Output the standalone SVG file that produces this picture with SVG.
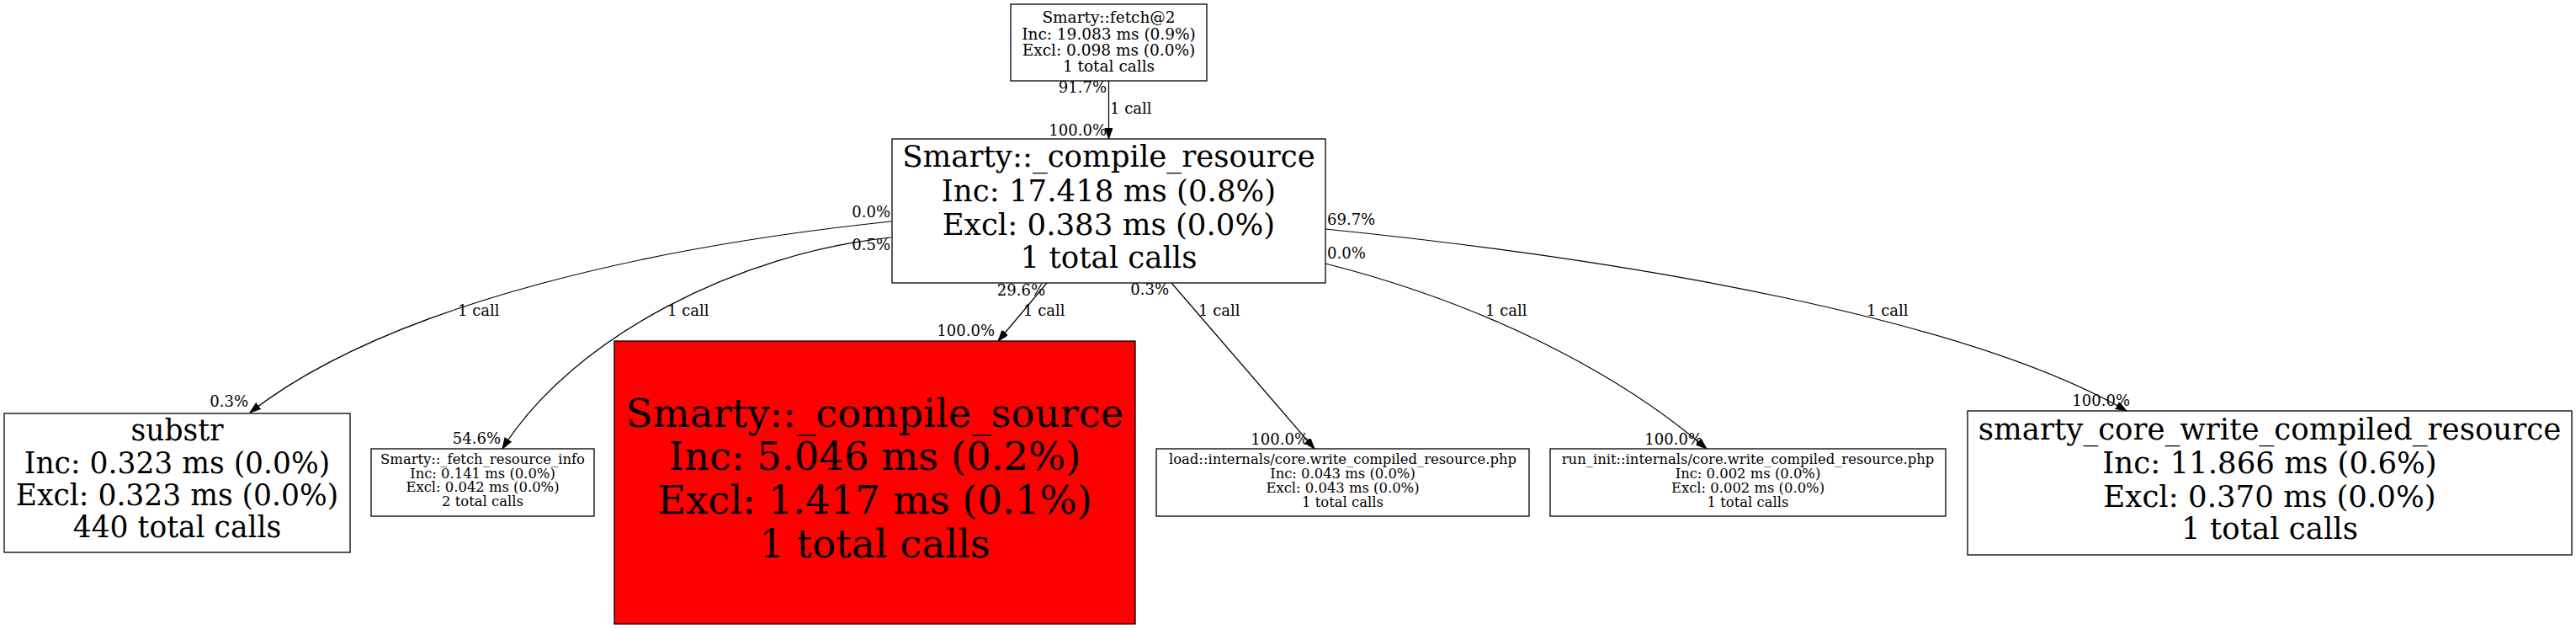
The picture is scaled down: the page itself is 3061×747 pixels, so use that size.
<svg xmlns="http://www.w3.org/2000/svg" width="3061" height="747" viewBox="0 0 3061 747">
<defs>
<style>
.bg{fill:#ffffff}
.box{fill:#ffffff;stroke:#000000;stroke-width:1.3}
.hot{fill:#ff0000;stroke:#000000;stroke-width:1.3}
.t{font-family:"DejaVu Serif",serif;fill:#000000;text-anchor:middle}
.lbl{font-family:"DejaVu Serif",serif;font-size:18px;fill:#000000}
.e{fill:none;stroke:#000000;stroke-width:1.2}
.end{text-anchor:end}
</style>
<marker id="arr" markerUnits="userSpaceOnUse" markerWidth="14" markerHeight="10" refX="13" refY="4.5" orient="auto">
<path d="M0,0 L13,4.5 L0,9 z" fill="#000000" stroke="#000000" stroke-width="1"/>
</marker>
</defs>
<rect class="bg" x="0" y="0" width="3061" height="747"/>

<g id="connectors">
<path class="e" d="M1317.5,96 L1317.5,165" marker-end="url(#arr)"/>
<path class="e" d="M1059,263 C800,290 470,355 297,490" marker-end="url(#arr)"/>
<path class="e" d="M1059,282 C880,300 680,400 597,533" marker-end="url(#arr)"/>
<path class="e" d="M1244,336 L1186,405" marker-end="url(#arr)"/>
<path class="e" d="M1392,336 L1562,533" marker-end="url(#arr)"/>
<path class="e" d="M1575,313 C1760,360 1920,440 2028,533" marker-end="url(#arr)"/>
<path class="e" d="M1575,272 C1950,310 2340,380 2527,488" marker-end="url(#arr)"/>
<text class="lbl end" x="1315" y="110">91.7%</text>
<text class="lbl" x="1319" y="135">1 call</text>
<text class="lbl end" x="1315" y="161">100.0%</text>
<text class="lbl end" x="1058" y="258">0.0%</text>
<text class="lbl" x="544" y="375">1 call</text>
<text class="lbl end" x="295" y="483">0.3%</text>
<text class="lbl end" x="1058" y="297">0.5%</text>
<text class="lbl" x="793" y="375">1 call</text>
<text class="lbl end" x="595" y="527">54.6%</text>
<text class="lbl end" x="1242" y="351">29.6%</text>
<text class="lbl" x="1216" y="375">1 call</text>
<text class="lbl end" x="1182" y="399">100.0%</text>
<text class="lbl end" x="1389" y="350">0.3%</text>
<text class="lbl" x="1424" y="375">1 call</text>
<text class="lbl end" x="1555" y="528">100.0%</text>
<text class="lbl" x="1577" y="307">0.0%</text>
<text class="lbl" x="1765" y="375">1 call</text>
<text class="lbl end" x="2023" y="528">100.0%</text>
<text class="lbl" x="1577" y="267">69.7%</text>
<text class="lbl" x="2218" y="375">1 call</text>
<text class="lbl end" x="2531" y="482">100.0%</text>
</g>

<g id="node-fetch">
<rect class="box" x="1201" y="5" width="233" height="91"/>
<text class="t" font-size="18.5" x="1317.5" y="27">Smarty::fetch@2</text>
<text class="t" font-size="18.5" x="1317.5" y="46.5">Inc: 19.083 ms (0.9%)</text>
<text class="t" font-size="18.5" x="1317.5" y="66">Excl: 0.098 ms (0.0%)</text>
<text class="t" font-size="18.5" x="1317.5" y="85">1 total calls</text>
</g>

<g id="node-compile-resource">
<rect class="box" x="1060" y="165" width="515" height="171"/>
<text class="t" font-size="35.6" x="1317.5" y="198">Smarty::_compile_resource</text>
<text class="t" font-size="35.6" x="1317.5" y="239">Inc: 17.418 ms (0.8%)</text>
<text class="t" font-size="35.6" x="1317.5" y="279">Excl: 0.383 ms (0.0%)</text>
<text class="t" font-size="35.6" x="1317.5" y="318">1 total calls</text>
</g>

<g id="node-substr">
<rect class="box" x="5" y="491" width="411" height="165"/>
<text class="t" font-size="34.5" x="210.5" y="523">substr</text>
<text class="t" font-size="34.5" x="210.5" y="562">Inc: 0.323 ms (0.0%)</text>
<text class="t" font-size="34.5" x="210.5" y="600">Excl: 0.323 ms (0.0%)</text>
<text class="t" font-size="34.5" x="210.5" y="638">440 total calls</text>
</g>

<g id="node-fetch-resource-info">
<rect class="box" x="441" y="533" width="265" height="80"/>
<text class="t" font-size="16.4" x="573.5" y="551">Smarty::_fetch_resource_info</text>
<text class="t" font-size="16.4" x="573.5" y="567.5">Inc: 0.141 ms (0.0%)</text>
<text class="t" font-size="16.4" x="573.5" y="584">Excl: 0.042 ms (0.0%)</text>
<text class="t" font-size="16.4" x="573.5" y="601">2 total calls</text>
</g>

<g id="node-compile-source">
<rect class="hot" x="730" y="405" width="619" height="336"/>
<text class="t" font-size="46.5" x="1039.5" y="507">Smarty::_compile_source</text>
<text class="t" font-size="46.5" x="1039.5" y="558">Inc: 5.046 ms (0.2%)</text>
<text class="t" font-size="46.5" x="1039.5" y="610">Excl: 1.417 ms (0.1%)</text>
<text class="t" font-size="46.5" x="1039.5" y="662">1 total calls</text>
</g>

<g id="node-load">
<rect class="box" x="1374" y="533" width="443" height="80"/>
<text class="t" font-size="16.4" x="1595.5" y="551">load::internals/core.write_compiled_resource.php</text>
<text class="t" font-size="16.4" x="1595.5" y="568">Inc: 0.043 ms (0.0%)</text>
<text class="t" font-size="16.4" x="1595.5" y="585">Excl: 0.043 ms (0.0%)</text>
<text class="t" font-size="16.4" x="1595.5" y="602">1 total calls</text>
</g>

<g id="node-run-init">
<rect class="box" x="1842" y="533" width="470" height="80"/>
<text class="t" font-size="16.4" x="2077" y="551">run_init::internals/core.write_compiled_resource.php</text>
<text class="t" font-size="16.4" x="2077" y="568">Inc: 0.002 ms (0.0%)</text>
<text class="t" font-size="16.4" x="2077" y="585">Excl: 0.002 ms (0.0%)</text>
<text class="t" font-size="16.4" x="2077" y="602">1 total calls</text>
</g>

<g id="node-write-compiled">
<rect class="box" x="2338" y="488" width="718" height="171"/>
<text class="t" font-size="35.6" x="2697" y="522">smarty_core_write_compiled_resource</text>
<text class="t" font-size="35.6" x="2697" y="562">Inc: 11.866 ms (0.6%)</text>
<text class="t" font-size="35.6" x="2697" y="602">Excl: 0.370 ms (0.0%)</text>
<text class="t" font-size="35.6" x="2697" y="640">1 total calls</text>
</g>
</svg>
